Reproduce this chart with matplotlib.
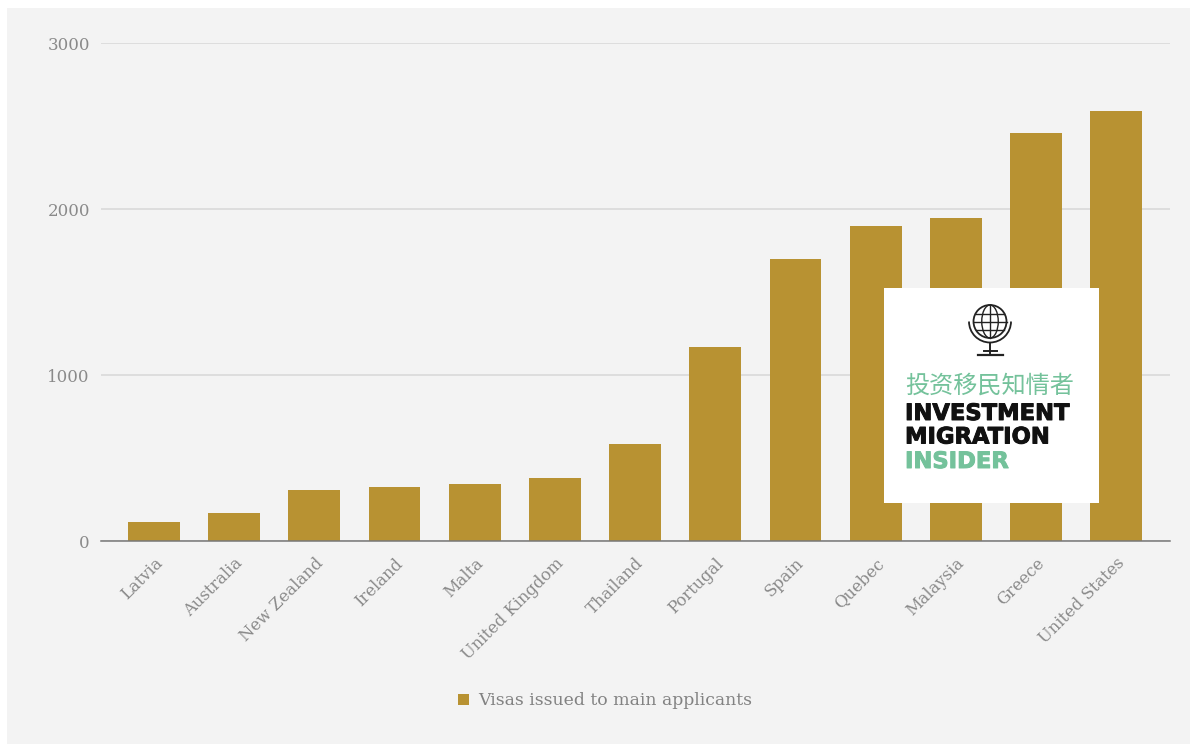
import matplotlib
matplotlib.use("Agg")
import matplotlib.pyplot as plt
import matplotlib.patheffects as pe
from matplotlib.patches import Rectangle, Circle, Ellipse, Arc

countries = ["Latvia", "Australia", "New Zealand", "Ireland", "Malta", "United Kingdom",
             "Thailand", "Portugal", "Spain", "Quebec", "Malaysia", "Greece", "United States"]
visas = [115, 170, 307, 325, 343, 380, 585, 1170, 1700, 1898, 1945, 2458, 2590]
y_ticks = [0, 1000, 2000, 3000]
series_name = "Visas issued to main applicants"
logo_cn = "投资移民知情者"
logo_lines = ["INVESTMENT", "MIGRATION", "INSIDER"]

W, H = 1199, 744
BAR = "#b89232"
GREEN = "#74c29b"
SERIF = ["DejaVu Serif"]

fig = plt.figure(figsize=(W / 100, H / 100), dpi=100, facecolor="white")

# Pixel-addressed overlay used for the panel and the logo
def pixel_axes(z):
    a = fig.add_axes([0, 0, 1, 1], zorder=z)
    a.set_xlim(0, W)
    a.set_ylim(H, 0)
    a.axis("off")
    a.patch.set_alpha(0)
    return a

bg = pixel_axes(0)
bg.add_patch(Rectangle((7, 8), 1183, 736, fc="#f3f3f3", ec="none"))

# Bar chart
ax = fig.add_axes([101 / W, 1 - 541 / H, (1170 - 101) / W, (541 - 43) / H], zorder=1)
ax.patch.set_alpha(0)
ax.bar(range(len(visas)), visas, width=0.648, color=BAR, zorder=3, label=series_name)
ax.set_xlim(-0.66, 12.67)
ax.set_ylim(0, 3000)
ax.set_yticks(y_ticks)
ax.set_yticklabels([str(v) for v in y_ticks], family=SERIF, fontsize=12, color="#8a8a8a")
ax.set_xticks(range(len(countries)))
ax.set_xticklabels(countries, rotation=45, ha="right", rotation_mode="anchor",
                   family=SERIF, fontsize=11.8, color="#8a8a8a")
ax.tick_params(axis="both", length=0)
ax.tick_params(axis="y", pad=8)
ax.tick_params(axis="x", pad=10)
ax.grid(axis="y", color="#d9d9d9", lw=1.2, zorder=0)
ax.set_axisbelow(True)
for side in ("top", "left", "right"):
    ax.spines[side].set_visible(False)
ax.spines["bottom"].set_color("#777777")
ax.spines["bottom"].set_linewidth(1.1)
ax.spines["bottom"].set_zorder(5)

leg = ax.legend(loc="lower center", bbox_to_anchor=(0.4715, -0.369), frameon=False,
                prop={"family": SERIF, "size": 12.4}, handlelength=0.62, handleheight=0.62,
                handletextpad=0.55, labelcolor="#828282")

# Logo card
fg = pixel_axes(2)
fg.add_patch(Rectangle((884, 288), 215, 215, fc="white", ec="none"))

# Globe icon on its stand
cx, cy, r = 990, 321.5, 16.5
ink = "#222222"
fg.add_patch(Circle((cx, cy), r, fc="none", ec=ink, lw=1.3))
fg.add_patch(Ellipse((cx, cy), r, 2 * r, fc="none", ec=ink, lw=1.0))
fg.plot([cx, cx], [cy - r, cy + r], color=ink, lw=1.0)
for dy, half in ((-8, 14.4), (0, r), (8, 14.4)):
    fg.plot([cx - half, cx + half], [cy + dy, cy + dy], color=ink, lw=1.0)
fg.add_patch(Arc((cx, cy), 42, 42, theta1=0, theta2=180, angle=0, ec=ink, lw=1.3))
fg.plot([cx, cx], [cy + 21, 353], color=ink, lw=1.4)
fg.plot([cx - 6.5, cx + 6.5], [351, 351], color=ink, lw=1.4)
fg.plot([cx - 12.5, cx + 12.5], [355, 355], color=ink, lw=1.6)

fg.text(990, 386, logo_cn, family=["Noto Sans CJK SC", "DejaVu Sans"], fontsize=17.4,
        color=GREEN, ha="center", va="center")
for text, y, colour in zip(logo_lines, (413.5, 437, 461.5), ("#111111", "#111111", GREEN)):
    label = fg.text(905, y, text, family="DejaVu Sans", weight="bold", fontsize=16.3, color=colour,
                    ha="left", va="center")
    # Slight outline to give the wordmark its heavier weight
    label.set_path_effects([pe.withStroke(linewidth=0.7, foreground=colour)])

fig.savefig("out.png", dpi=100, facecolor=fig.get_facecolor())
